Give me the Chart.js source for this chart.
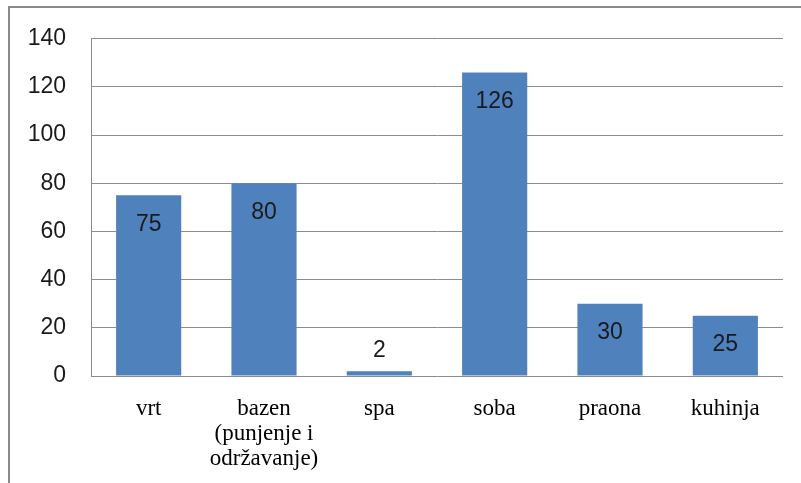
<!DOCTYPE html>
<html>
<head>
<meta charset="utf-8">
<script src="https://cdn.jsdelivr.net/npm/chart.js@4.4.1/dist/chart.umd.min.js"></script>
<style>
  html, body { margin: 0; padding: 0; background: #fff; }
  #wrap { position: relative; width: 801px; height: 483px; overflow: hidden; }
  #frame { position: absolute; left: 8px; top: 6px; width: 900px; height: 600px;
           border-top: 2px solid #8a8a8a; border-left: 2px solid #8a8a8a; pointer-events: none; }
  canvas { display: block; }
</style>
</head>
<body>
<div id="wrap">
  <canvas id="c" width="801" height="483"></canvas>
  <div id="frame"></div>
</div>
<script>
const categories = [["vrt"], ["bazen", "(punjenje i", "održavanje)"], ["spa"], ["soba"], ["praona"], ["kuhinja"]];
const values = [75, 80, 2, 126, 30, 25];
const yTicks = [0, 20, 40, 60, 80, 100, 120, 140];

const valueLabels = {
  id: 'valueLabels',
  afterDatasetsDraw(chart) {
    const ctx = chart.ctx;
    const meta = chart.getDatasetMeta(0);
    ctx.save();
    ctx.font = '23px "Liberation Sans", Arial, sans-serif';
    ctx.fillStyle = '#1a1a1a';
    ctx.textAlign = 'center';
    ctx.textBaseline = 'middle';
    meta.data.forEach((bar, i) => {
      const h = bar.base - bar.y;
      const y = h > 40 ? bar.y + 29 : bar.y - 21;
      ctx.fillText(String(values[i]), bar.x, y);
    });
    ctx.restore();
  }
};

new Chart(document.getElementById('c'), {
  type: 'bar',
  data: {
    labels: categories,
    datasets: [{
      data: values,
      backgroundColor: '#4F81BD',
      borderWidth: 0,
      barPercentage: 0.565,
      categoryPercentage: 1.0
    }]
  },
  options: {
    responsive: false,
    animation: false,
    devicePixelRatio: 1,
    layout: { padding: { left: 0, top: 37, right: 18, bottom: 0 } },
    plugins: { legend: { display: false }, tooltip: { enabled: false } },
    scales: {
      x: {
        grid: { display: false },
        border: { display: false },
        ticks: {
          color: '#000',
          font: { family: '"Liberation Serif", "Times New Roman", serif', size: 23, lineHeight: 1.1 },
          padding: 12,
          maxRotation: 0,
          autoSkip: false
        },
        afterFit(scale) { scale.height = 107; }
      },
      y: {
        min: 0, max: 140,
        afterBuildTicks(scale) { scale.ticks = yTicks.map(v => ({ value: v })); },
        grid: { color: '#8c8c8c', lineWidth: 1, drawTicks: false },
        border: { display: true, color: '#8c8c8c', width: 1 },
        ticks: {
          color: '#1a1a1a',
          font: { family: '"Liberation Sans", Arial, sans-serif', size: 23 },
          padding: 25
        },
        afterFit(scale) { scale.width = 91; }
      }
    }
  },
  plugins: [valueLabels]
});
</script>
</body>
</html>
